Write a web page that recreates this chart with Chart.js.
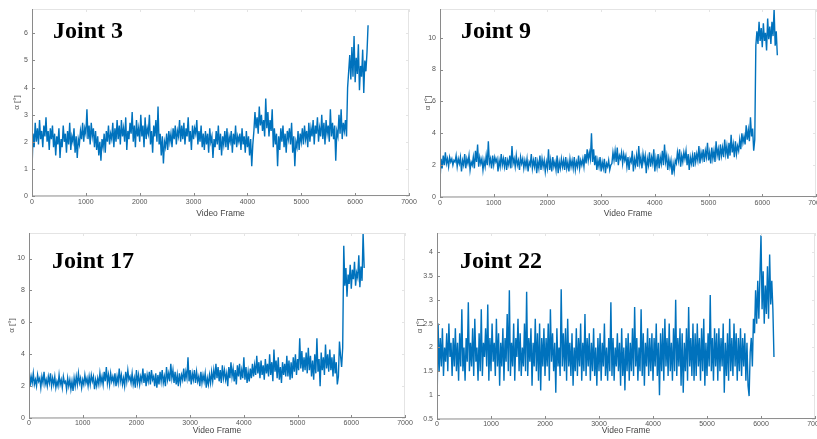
<!DOCTYPE html>
<html>
<head>
<meta charset="utf-8">
<script src="https://cdn.jsdelivr.net/npm/chart.js@4.4.1/dist/chart.umd.min.js"></script>
<style>
  html, body { margin: 0; padding: 0; background: #fff; }
  #wrap { position: relative; width: 817px; height: 439px; overflow: hidden; }
  .panel { position: absolute; }
  .joint { position: absolute; font-family: 'Liberation Serif', 'Times New Roman', serif; font-weight: bold; font-size: 24px; line-height: 1; color: #000; white-space: nowrap; }
</style>
</head>
<body>
<div id="wrap">
  <canvas class="panel" id="g3" width="418" height="220" style="left:0;top:0"></canvas>
  <canvas class="panel" id="g9" width="409" height="220" style="left:408px;top:0"></canvas>
  <canvas class="panel" id="g17" width="418" height="219" style="left:0;top:220px"></canvas>
  <canvas class="panel" id="g22" width="409" height="219" style="left:408px;top:220px"></canvas>
  <div class="joint" style="left:53px;top:18px">Joint 3</div>
  <div class="joint" style="left:461px;top:18px">Joint 9</div>
  <div class="joint" style="left:52px;top:248px">Joint 17</div>
  <div class="joint" style="left:460px;top:248px">Joint 22</div>
</div>
<script>
// one value every 20 frames
const paso = 20;
const ticksX = [0, 1000, 2000, 3000, 4000, 5000, 6000, 7000];
const ticksY3 = [0, 1, 2, 3, 4, 5, 6];
const ticksY9 = [0, 2, 4, 6, 8, 10];
const ticksY17 = [0, 2, 4, 6, 8, 10];
const ticksY22 = [0.5, 1, 1.5, 2, 2.5, 3, 3.5, 4];

const joint3 = [
  1.0, 2.3, 1.8, 2.7, 2.0, 2.5, 1.9, 2.8, 2.1, 2.4, 1.8, 2.6, 2.2, 2.9, 2.0, 2.4, 1.7, 2.5, 2.1, 2.6,
  1.8, 2.3, 1.5, 2.2, 1.9, 2.5, 1.4, 2.1, 1.8, 2.6, 2.0, 2.3, 1.6, 2.4, 1.9, 2.7, 1.7, 2.2, 2.0, 2.5,
  1.6, 2.2, 1.4, 2.1, 1.9, 2.4, 2.1, 2.7, 2.0, 2.5, 2.3, 3.2, 2.1, 2.6, 1.9, 2.7, 2.2, 2.5, 1.8, 2.4,
  1.7, 2.2, 1.5, 2.0, 1.3, 2.1, 1.8, 2.3, 1.6, 2.4, 2.0, 2.6, 1.9, 2.3, 2.1, 2.7, 1.8, 2.5, 2.0, 2.8,
  2.1, 2.6, 1.9, 2.8, 2.2, 2.5, 2.0, 2.9, 1.7, 2.4, 2.1, 2.7, 2.3, 3.1, 2.0, 2.6, 1.8, 2.8, 2.2, 2.5,
  2.0, 3.0, 2.2, 2.6, 1.8, 2.9, 2.1, 2.5, 2.3, 3.0, 1.9, 2.4, 1.6, 2.6, 2.2, 2.8, 2.0, 3.3, 1.9, 2.3,
  1.5, 2.2, 1.2, 2.0, 1.8, 2.3, 1.7, 2.4, 2.0, 2.3, 1.8, 2.5, 2.1, 2.6, 1.9, 2.4, 2.2, 2.8, 2.0, 2.6,
  2.1, 2.7, 1.9, 2.5, 2.2, 2.9, 2.0, 2.4, 1.7, 2.6, 2.1, 2.5, 2.3, 2.8, 1.9, 2.4, 2.0, 2.6, 1.8, 2.3,
  1.7, 2.4, 1.9, 2.3, 1.6, 2.5, 2.0, 2.2, 1.4, 2.1, 1.8, 2.4, 1.9, 2.6, 1.7, 2.3, 1.5, 2.2, 1.9, 2.4,
  1.8, 2.5, 1.7, 2.2, 2.0, 2.4, 1.6, 2.3, 1.9, 2.6, 1.8, 2.2, 2.0, 2.3, 1.7, 2.5, 1.9, 2.2, 1.6, 2.4,
  1.8, 2.2, 1.5, 2.1, 1.1, 1.9, 2.4, 3.1, 2.5, 2.9, 2.3, 3.3, 2.6, 3.0, 2.4, 2.8, 2.2, 3.6, 2.5, 3.1,
  2.2, 2.8, 2.4, 3.2, 1.8, 2.5, 1.9, 2.3, 1.1, 2.2, 1.7, 2.5, 2.0, 2.6, 1.8, 2.3, 1.6, 2.4, 2.1, 2.5,
  1.9, 2.7, 1.6, 2.2, 1.1, 2.0, 1.8, 2.4, 1.7, 2.3, 2.0, 2.5, 1.9, 2.6, 2.1, 2.4, 1.8, 2.7, 2.0, 2.5,
  2.2, 2.8, 1.9, 2.6, 2.3, 2.9, 2.0, 2.5, 2.2, 3.0, 2.1, 2.7, 1.9, 2.8, 2.3, 2.6, 2.0, 3.2, 2.2, 2.7,
  2.1, 2.6, 1.3, 2.4, 2.2, 3.0, 2.3, 3.2, 2.1, 2.7, 2.4, 2.8, 2.2, 4.0, 4.6, 5.2, 4.3, 5.5, 4.4, 5.9,
  4.2, 5.1, 4.5, 5.6, 3.9, 4.8, 4.4, 5.4, 3.8, 5.0, 4.6, 5.3, 6.3
];

const joint9 = [
  1.0, 2.4, 1.8, 2.6, 2.0, 2.8, 2.1, 2.4, 1.9, 2.5, 2.2, 2.4, 2.0, 2.3, 2.2, 2.6, 1.9, 2.4, 2.1, 2.5,
  1.6, 2.3, 2.0, 2.7, 1.8, 2.4, 2.1, 2.6, 1.7, 2.2, 2.0, 2.5, 1.8, 2.9, 2.2, 3.3, 1.9, 2.5, 2.1, 2.4,
  1.7, 2.3, 1.9, 2.6, 2.0, 3.5, 2.1, 2.4, 1.8, 2.6, 2.0, 2.5, 2.2, 2.4, 1.6, 2.3, 1.9, 2.7, 2.0, 2.4,
  1.9, 2.5, 1.7, 2.3, 2.0, 2.6, 1.8, 3.2, 2.1, 2.4, 1.9, 2.6, 2.0, 2.3, 1.7, 2.5, 2.1, 2.4, 1.8, 2.3,
  1.9, 2.4, 1.6, 2.2, 2.0, 2.7, 1.8, 2.3, 1.9, 2.5, 1.5, 2.2, 1.8, 2.6, 1.7, 2.4, 1.9, 2.3, 1.6, 2.2,
  1.8, 3.0, 1.7, 2.3, 1.6, 2.5, 1.9, 2.2, 1.7, 2.6, 1.5, 2.2, 1.8, 2.4, 1.9, 2.3, 1.7, 2.5, 1.8, 2.2,
  1.6, 2.4, 1.9, 2.3, 1.8, 2.5, 1.7, 2.2, 1.9, 2.6, 1.8, 2.3, 2.0, 2.4, 1.9, 2.7, 2.1, 3.0, 2.3, 2.8,
  2.4, 4.0, 2.2, 3.0, 2.0, 2.6, 1.7, 2.3, 1.9, 2.5, 1.6, 2.2, 1.8, 2.4, 1.5, 2.1, 1.9, 2.3, 1.7, 2.0,
  2.1, 2.8, 2.3, 2.9, 2.2, 3.1, 2.0, 2.6, 2.4, 2.8, 2.1, 2.7, 2.3, 2.6, 1.9, 2.5, 1.7, 2.4, 2.2, 2.9,
  1.6, 2.4, 2.0, 2.6, 1.9, 3.2, 2.1, 2.5, 1.8, 2.7, 2.2, 2.6, 1.5, 2.4, 2.0, 2.8, 1.9, 2.5, 2.1, 3.0,
  1.6, 2.4, 1.9, 2.7, 1.8, 2.5, 2.1, 2.9, 2.0, 3.3, 2.2, 2.6, 1.7, 2.4, 1.9, 2.3, 1.4, 2.1, 1.6, 2.3,
  2.1, 2.8, 2.3, 3.0, 1.9, 2.6, 2.2, 2.8, 2.4, 2.9, 2.0, 2.7, 1.7, 2.5, 2.1, 2.6, 1.9, 2.8, 2.2, 2.7,
  2.3, 3.2, 2.1, 2.8, 2.4, 3.0, 2.2, 2.9, 2.5, 3.4, 2.3, 2.8, 2.1, 3.1, 2.4, 2.9, 2.2, 3.5, 2.6, 3.0,
  2.3, 3.3, 2.6, 3.1, 2.5, 3.6, 2.7, 3.2, 2.4, 3.4, 2.6, 3.9, 2.8, 3.3, 2.5, 3.5, 2.7, 3.2, 2.9, 3.6,
  3.0, 4.0, 3.4, 3.8, 3.3, 4.5, 3.6, 4.2, 3.5, 5.0, 3.8, 4.3, 2.9, 3.6, 9.5, 10.4, 9.6, 11.0, 9.8, 10.6,
  9.4, 10.9, 9.8, 10.3, 9.2, 11.2, 9.9, 10.7, 9.6, 11.0, 10.1, 11.8, 9.5, 10.4, 8.9
];

const joint17 = [
  3.1, 2.0, 2.6, 2.2, 2.8, 2.1, 2.4, 2.0, 2.7, 2.3, 2.5, 1.9, 2.6, 2.2, 2.9, 2.1, 2.4, 2.0, 2.6, 2.2,
  2.8, 2.0, 2.5, 2.1, 2.6, 1.9, 2.3, 2.0, 2.7, 2.1, 2.4, 1.9, 2.6, 2.2, 2.3, 1.8, 2.5, 2.0, 2.4, 1.8,
  2.3, 1.7, 2.5, 2.0, 2.6, 2.1, 2.8, 2.2, 2.5, 1.9, 2.4, 2.1, 2.7, 2.2, 2.5, 2.0, 2.6, 2.1, 2.7, 2.3,
  2.6, 1.8, 2.4, 2.0, 2.5, 2.1, 2.8, 2.2, 2.6, 2.1, 2.9, 2.3, 3.2, 2.2, 2.7, 2.1, 2.8, 2.3, 2.6, 2.2,
  2.8, 2.0, 2.6, 2.2, 3.1, 2.3, 2.7, 2.1, 2.5, 2.0, 2.9, 2.3, 3.0, 2.4, 2.6, 2.2, 2.8, 2.1, 2.5, 1.9,
  3.0, 2.2, 2.7, 2.1, 2.6, 2.3, 3.1, 2.2, 2.8, 2.0, 2.7, 2.3, 2.9, 2.1, 3.0, 2.4, 2.6, 2.0, 2.8, 1.9,
  2.7, 2.1, 2.9, 2.3, 3.0, 2.2, 2.6, 2.0, 3.2, 2.4, 2.8, 2.3, 3.4, 2.5, 3.0, 2.2, 2.9, 2.1, 2.7, 2.0,
  2.8, 2.2, 2.7, 2.4, 3.1, 2.3, 2.9, 2.5, 3.8, 2.3, 3.0, 2.1, 2.8, 2.4, 3.0, 2.2, 2.9, 2.3, 2.6, 2.0,
  2.9, 2.2, 2.7, 2.3, 2.8, 1.9, 2.5, 2.1, 2.7, 2.2, 2.9, 2.3, 3.0, 2.4, 3.4, 2.5, 3.2, 2.3, 3.0, 2.2,
  3.3, 2.5, 3.0, 2.4, 2.8, 2.0, 3.2, 2.5, 3.5, 2.6, 3.1, 2.3, 3.0, 2.1, 3.3, 2.6, 3.4, 2.4, 3.0, 2.5,
  3.8, 2.4, 3.2, 2.2, 2.9, 2.3, 3.1, 2.5, 3.4, 2.6, 3.3, 2.7, 3.9, 2.8, 3.5, 2.5, 3.6, 2.7, 3.3, 2.4,
  3.7, 2.8, 3.4, 2.6, 4.0, 2.7, 3.5, 2.3, 4.3, 2.9, 3.6, 2.5, 3.8, 2.4, 3.2, 2.2, 3.5, 2.7, 3.4, 2.6,
  3.9, 2.6, 3.6, 2.4, 3.5, 2.5, 3.8, 2.9, 4.0, 2.7, 3.7, 3.0, 5.0, 3.1, 4.2, 2.9, 3.8, 3.0, 4.1, 2.8,
  4.4, 3.0, 3.9, 2.6, 3.6, 2.4, 4.0, 2.8, 5.0, 2.9, 3.7, 2.0, 4.1, 3.0, 3.8, 2.7, 4.6, 3.1, 4.0, 2.9,
  4.3, 3.0, 3.8, 2.6, 4.0, 2.8, 3.5, 2.1, 2.6, 4.8, 3.9, 3.2, 4.4, 10.8, 8.3, 9.4, 7.6, 9.0, 8.4, 9.6,
  8.1, 9.3, 8.7, 9.8, 8.3, 9.1, 8.8, 10.2, 8.2, 9.5, 8.6, 11.6, 9.4
];

const joint22 = [
  0.7, 2.5, 1.5, 2.2, 1.6, 2.4, 1.4, 2.0, 1.7, 2.3, 1.5, 2.5, 1.8, 2.1, 1.4, 2.2, 1.6, 2.4, 1.5, 2.1,
  1.3, 2.3, 1.6, 2.8, 1.5, 2.0, 1.3, 2.2, 1.7, 2.95, 1.5, 2.1, 1.6, 2.4, 1.4, 2.6, 1.7, 2.0, 1.3, 2.3,
  1.5, 2.8, 1.4, 2.1, 1.8, 2.4, 1.6, 2.9, 1.3, 2.2, 1.5, 2.5, 1.7, 2.1, 1.4, 2.6, 1.6, 2.3, 1.2, 2.1,
  1.6, 2.4, 1.3, 2.2, 1.7, 2.7, 1.5, 3.2, 1.4, 2.1, 1.6, 2.5, 1.3, 2.2, 1.8, 2.6, 1.5, 2.3, 1.4, 2.0,
  1.6, 2.5, 1.5, 3.17, 1.4, 2.2, 1.7, 2.4, 1.2, 2.1, 1.6, 2.6, 1.5, 2.3, 1.3, 2.5, 1.1, 2.2, 1.6, 2.4,
  1.4, 2.2, 1.6, 2.5, 1.3, 2.8, 1.7, 2.3, 1.5, 2.1, 1.05, 2.4, 1.6, 2.0, 1.4, 3.22, 1.6, 2.3, 1.5, 2.4,
  1.3, 2.6, 1.6, 2.1, 1.4, 2.3, 1.2, 2.0, 1.5, 2.4, 1.4, 2.2, 1.6, 2.5, 1.3, 2.1, 1.5, 2.7, 1.4, 2.2,
  1.6, 2.3, 1.3, 2.1, 1.5, 2.4, 1.4, 2.0, 1.2, 2.2, 1.5, 2.3, 1.3, 2.1, 1.6, 2.5, 1.4, 2.0, 1.3, 2.2,
  1.5, 2.95, 1.4, 2.2, 1.3, 2.0, 1.6, 2.3, 1.5, 2.1, 1.2, 2.4, 1.4, 2.0, 1.1, 2.2, 1.5, 2.3, 1.3, 2.1,
  1.5, 2.4, 1.4, 2.85, 1.6, 2.2, 1.3, 2.0, 1.5, 2.8, 1.4, 2.3, 1.2, 2.1, 1.6, 2.4, 1.4, 2.2, 1.5, 2.3,
  1.3, 2.2, 1.6, 2.5, 1.4, 2.1, 1.0, 2.3, 1.5, 2.4, 1.3, 2.6, 1.6, 2.2, 1.4, 2.5, 1.5, 2.1, 1.3, 2.4,
  1.5, 3.0, 1.4, 2.2, 1.6, 2.4, 1.2, 2.3, 1.05, 2.1, 1.5, 2.4, 1.3, 2.85, 1.6, 2.2, 1.4, 2.5, 1.3, 2.3,
  1.4, 2.5, 1.6, 2.2, 1.3, 2.4, 1.5, 2.6, 1.2, 2.1, 1.4, 2.3, 1.6, 3.1, 1.5, 2.2, 1.3, 2.4, 1.6, 2.3,
  1.3, 2.4, 1.5, 2.2, 1.6, 2.5, 1.05, 2.1, 1.4, 2.3, 1.3, 2.6, 1.5, 2.2, 1.4, 2.5, 1.6, 2.3, 1.3, 2.2,
  1.5, 2.4, 1.4, 2.2, 1.6, 2.3, 1.3, 2.1, 1.2, 0.98, 1.9, 2.2, 1.6, 2.6, 2.3, 3.2, 2.5, 3.4, 2.6, 3.5,
  4.35, 2.8, 3.6, 2.5, 3.3, 2.7, 3.7, 2.6, 3.95, 2.9, 3.4, 2.8, 1.8
];

const azul = '#0072BD';
Chart.defaults.font.family = "'Liberation Sans', Arial, sans-serif";

// box around the plot area with inward ticks, like matlab
const marco = {
  id: 'marco',
  afterDatasetsDraw(chart) {
    const { ctx, chartArea: a, scales: { x, y } } = chart;
    ctx.save();
    ctx.lineWidth = 1;
    ctx.strokeStyle = '#e4e4e4';
    ctx.beginPath();
    ctx.moveTo(a.left, a.top + 0.5);
    ctx.lineTo(a.right, a.top + 0.5);
    ctx.moveTo(a.right - 0.5, a.top);
    ctx.lineTo(a.right - 0.5, a.bottom);
    x.ticks.forEach(t => {
      const px = Math.round(x.getPixelForValue(t.value)) + 0.5;
      ctx.moveTo(px, a.top);
      ctx.lineTo(px, a.top + 3);
    });
    y.ticks.forEach(t => {
      const py = Math.round(y.getPixelForValue(t.value)) + 0.5;
      ctx.moveTo(a.right, py);
      ctx.lineTo(a.right - 3, py);
    });
    ctx.stroke();
    ctx.strokeStyle = '#8a8a8a';
    ctx.beginPath();
    ctx.moveTo(a.left + 0.5, a.top);
    ctx.lineTo(a.left + 0.5, a.bottom);
    ctx.lineTo(a.right, a.bottom - 0.5);
    x.ticks.forEach(t => {
      const px = Math.round(x.getPixelForValue(t.value)) + 0.5;
      ctx.moveTo(px, a.bottom);
      ctx.lineTo(px, a.bottom - 3);
    });
    y.ticks.forEach(t => {
      const py = Math.round(y.getPixelForValue(t.value)) + 0.5;
      ctx.moveTo(a.left, py);
      ctx.lineTo(a.left + 3, py);
    });
    ctx.stroke();
    ctx.restore();
  }
};

function hacerGrafica(id, valores, ticksY, op) {
  new Chart(document.getElementById(id), {
    type: 'line',
    data: {
      datasets: [{
        data: valores.map((v, i) => ({ x: i * paso, y: v })),
        borderColor: azul,
        borderWidth: 1.4,
        pointRadius: 0,
        tension: 0
      }]
    },
    options: {
      responsive: false,
      animation: false,
      events: [],
      layout: { padding: { top: op.arriba, right: op.derecha, left: 0, bottom: 0 } },
      plugins: { legend: { display: false }, tooltip: { enabled: false } },
      scales: {
        x: {
          type: 'linear',
          min: 0,
          max: 7000,
          grid: { display: false, drawTicks: false },
          border: { display: false },
          afterBuildTicks: s => { s.ticks = ticksX.map(v => ({ value: v })); },
          ticks: { padding: op.padTick, maxRotation: 0, autoSkip: false, color: '#555', font: { size: 7 }, callback: v => String(v) },
          title: { display: true, text: 'Video Frame', color: '#444', font: { size: 8.5 }, padding: { top: 0, bottom: op.padTitX } },
          afterFit: s => { s.height = op.altoX; s.paddingLeft = 0; s.paddingRight = 0; }
        },
        y: {
          min: op.min,
          max: op.max,
          grid: { display: false, drawTicks: false },
          border: { display: false },
          afterBuildTicks: s => { s.ticks = ticksY.map(v => ({ value: v })); },
          ticks: { padding: 4, color: '#555', font: { size: 7 }, callback: v => String(v) },
          title: { display: true, text: 'α [°]', color: '#555', font: { size: 8 }, padding: { top: op.padTitY, bottom: 0 } },
          afterFit: s => { s.width = op.anchoY; s.paddingTop = 0; s.paddingBottom = 0; }
        }
      }
    },
    plugins: [marco]
  });
}

hacerGrafica('g3', joint3, ticksY3, { min: 0, max: 6.9, arriba: 9, derecha: 9, anchoY: 32, altoX: 24, padTick: 2, padTitX: 1.6, padTitY: 12 });
hacerGrafica('g9', joint9, ticksY9, { min: 0, max: 11.8, arriba: 9, derecha: 1, anchoY: 32, altoX: 23, padTick: 2, padTitX: 1.6, padTitY: 15 });
hacerGrafica('g17', joint17, ticksY17, { min: 0, max: 11.6, arriba: 13, derecha: 13, anchoY: 29, altoX: 21, padTick: 1, padTitX: 3, padTitY: 7 });
hacerGrafica('g22', joint22, ticksY22, { min: 0.5, max: 4.4, arriba: 13, derecha: 2, anchoY: 29, altoX: 20, padTick: 1, padTitX: 3, padTitY: 7 });
</script>
</body>
</html>
